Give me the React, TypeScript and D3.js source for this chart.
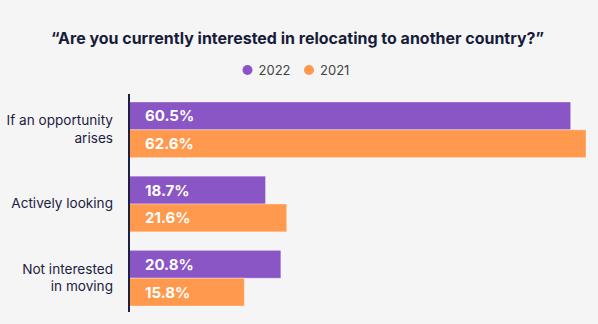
import React from "react";
import * as d3 from "d3";

const categories = [["If an opportunity", "arises"], ["Actively looking"], ["Not interested", "in moving"]];
const categoryKeys = ["If an opportunity arises", "Actively looking", "Not interested in moving"];
const seriesNames = ["2022", "2021"];
const values2022 = [60.5, 18.7, 20.8];
const values2021 = [62.6, 21.6, 15.8];
const colors = ["#8a55c4", "#ff994d"];
const title = "\u201CAre you currently interested in relocating to another country?\u201D";

const W = 598;
const H = 324;

export default function App() {
  const x = d3.scaleLinear().domain([0, 62.6]).range([129, 586]);
  const y = d3.scaleBand<string>().domain(categoryKeys).range([102, 306]).paddingInner(0.25).paddingOuter(0);
  const inner = d3.scaleBand<string>().domain(seriesNames).range([0, y.bandwidth()]);
  const series = [values2022, values2021];
  const font = "Inter, 'Open Sans', sans-serif";

  return (
    <svg width={W} height={H} style={{ position: "absolute", left: 0, top: 0, background: "#f5f5f5" }} fontFamily={font}>
      <rect x={0} y={0} width={W} height={H} fill="#f5f5f5" />
      <text x={297.5} y={43.5} textAnchor="middle" fontSize={16} fontWeight={700} fill="#171c3a" textLength={493} lengthAdjust="spacingAndGlyphs">{title}</text>
      {seriesNames.map((s, i) => {
        const lx = [247.5, 309][i];
        return (
          <g key={s}>
            <circle cx={lx} cy={70} r={5} fill={colors[i]} />
            <text x={lx + 11} y={74.5} fontSize={13} fill="#444">{s}</text>
          </g>
        );
      })}
      {categoryKeys.map((c, ci) => (
        <g key={c}>
          {series.map((vals, si) => {
            const yy = (y(c) as number) + (inner(seriesNames[si]) as number);
            const h = inner.bandwidth();
            return (
              <g key={si}>
                <rect x={x(0)} y={yy} width={x(vals[ci]) - x(0)} height={h} fill={colors[si]} stroke="#ffffff" strokeOpacity={0.35} strokeWidth={1} />
                <text x={x(0) + 16} y={yy + h / 2 + 5.5} fontSize={15} fontWeight={700} fill="#ffffff">{vals[ci].toFixed(1)}%</text>
              </g>
            );
          })}
          {(() => {
            const lines = categories[ci];
            const cy = (y(c) as number) + y.bandwidth() / 2;
            const lh = 17.4;
            return lines.map((ln, li) => (
              <text key={li} x={113} y={cy + (li - (lines.length - 1) / 2) * lh + 4.3} textAnchor="end" fontSize={13.6} fill="#1c2140">{ln}</text>
            ));
          })()}
        </g>
      ))}
      <line x1={129} x2={129} y1={94} y2={312} stroke="#1c2140" strokeWidth={2} />
    </svg>
  );
}
